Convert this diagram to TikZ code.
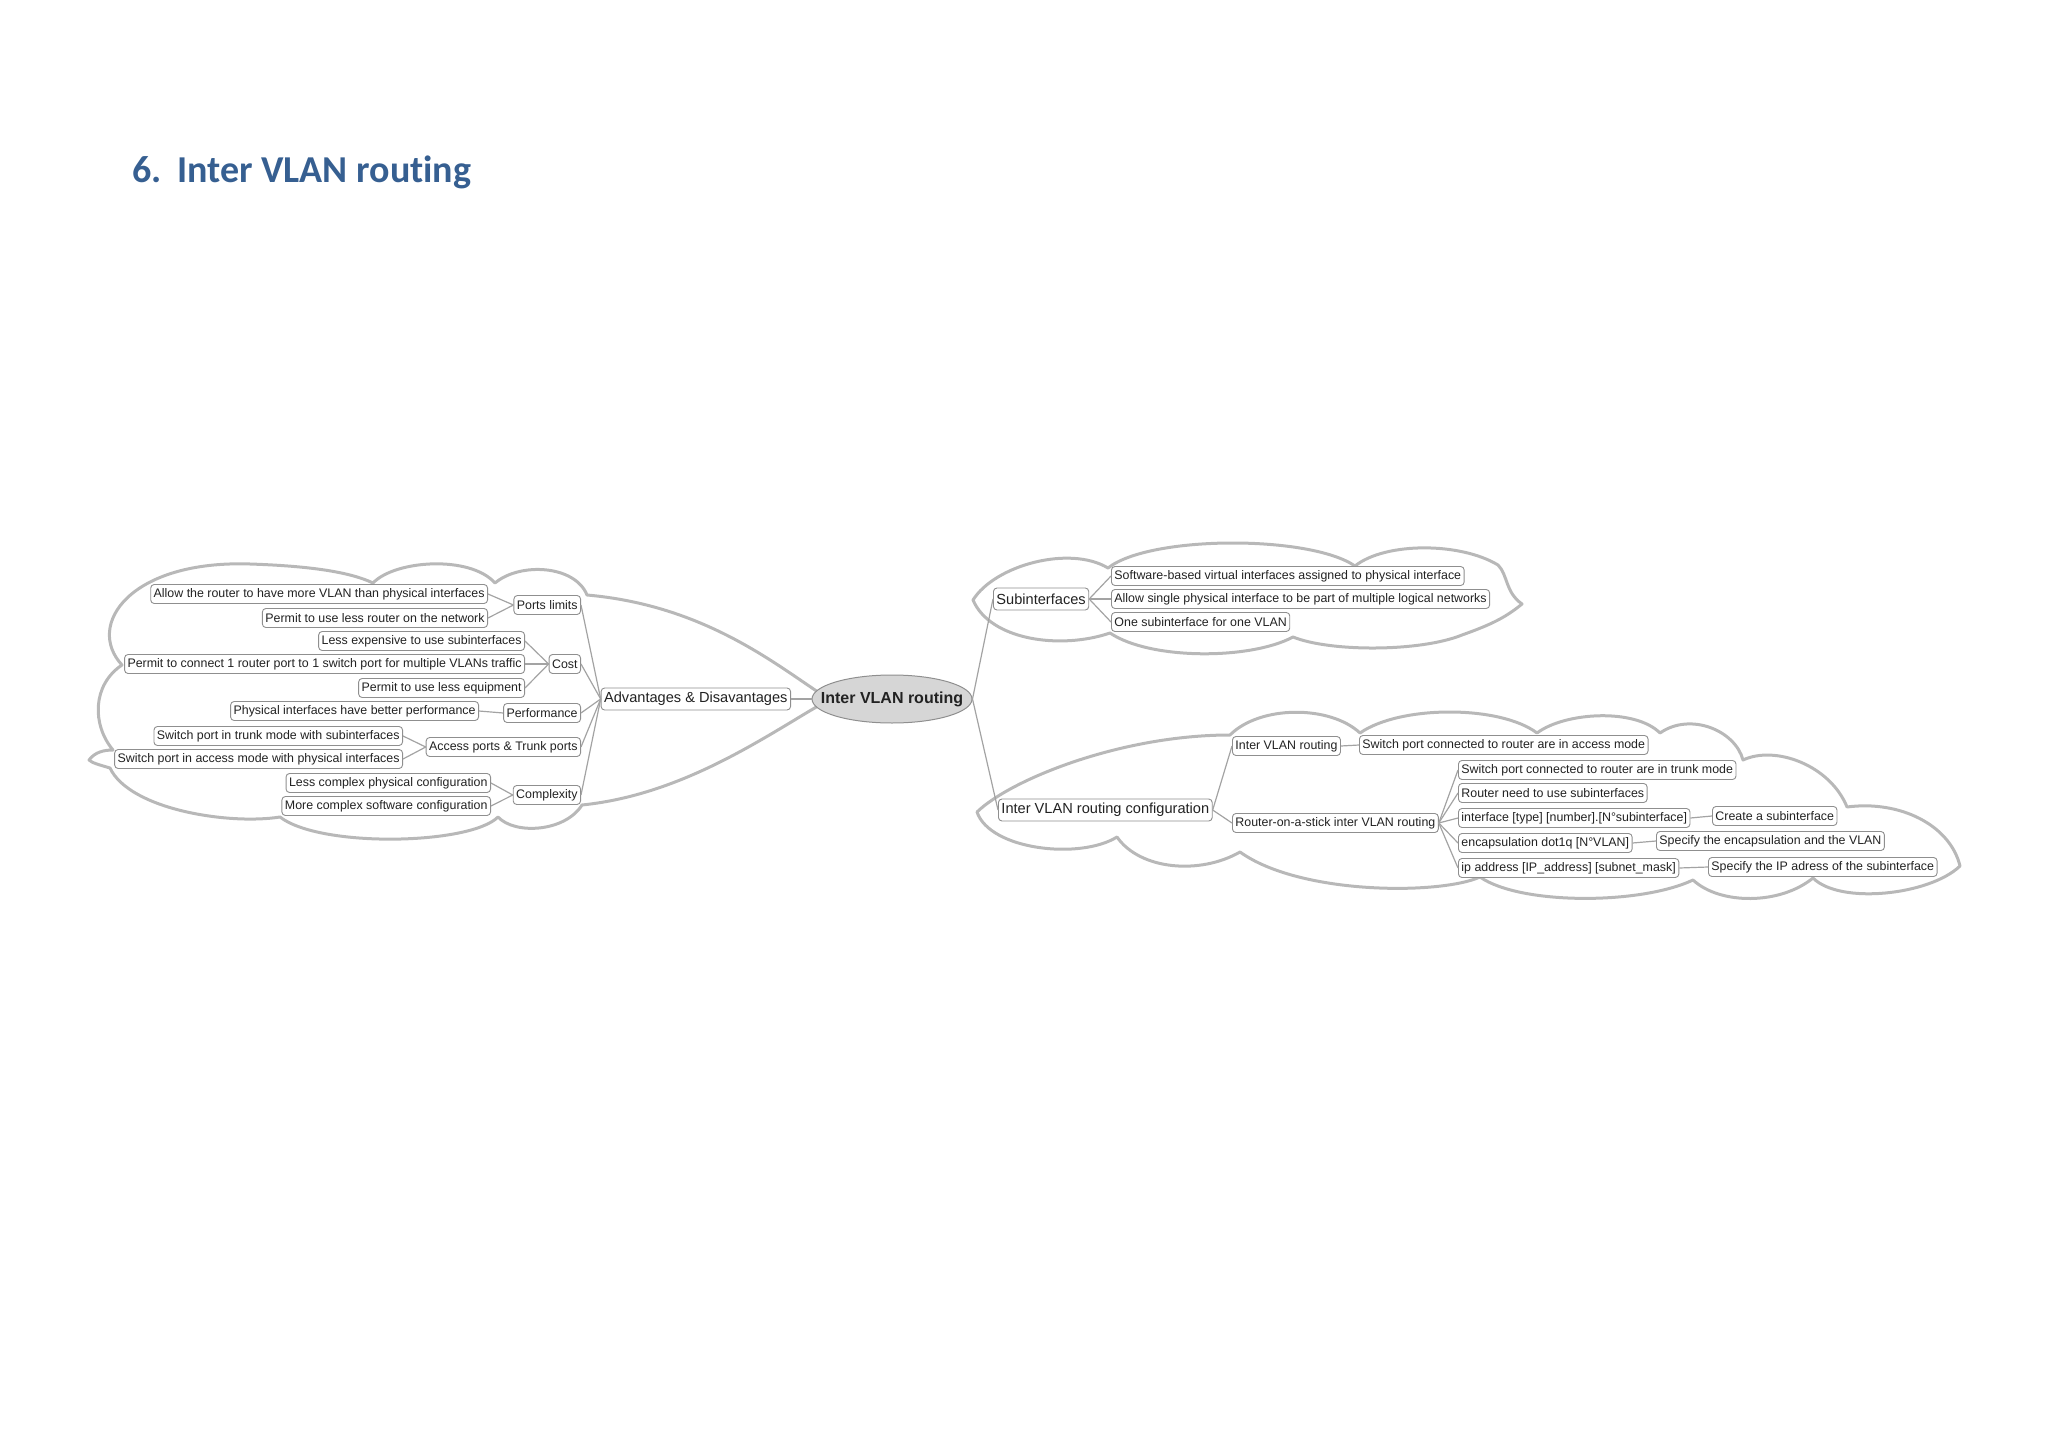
\documentclass[tikz,border=0pt]{standalone}
\usepackage{fontspec}
\setmainfont{Liberation Sans}
\newfontfamily\titlefont[Ligatures=NoCommon]{Carlito}
\usetikzlibrary{shapes.geometric}
\definecolor{cloudc}{HTML}{B8B8B8}
\definecolor{boxc}{HTML}{8F8F8F}
\definecolor{linkc}{HTML}{A3A3A3}
\definecolor{txt}{HTML}{222222}
\definecolor{rootfill}{HTML}{D6D6D6}
\definecolor{titlec}{HTML}{365F91}
\begin{document}
\begin{tikzpicture}[x=1pt,y=-1pt,
  box/.style={draw=boxc, rounded corners=3.5pt, line width=0.9pt, fill=white,
    font=\fontsize{12.4}{14}\selectfont, text=txt, inner xsep=3pt, inner ysep=0pt,
    minimum height=19pt},
  bigbox/.style={box, font=\fontsize{14.6}{16}\selectfont, minimum height=22pt},
  link/.style={draw=linkc, line width=1.2pt},
  cloudline/.style={draw=cloudc, line width=3pt, line join=round},
  titletext/.style={anchor=base west, inner sep=0pt, font=\titlefont\bfseries\fontsize{38}{44}\selectfont, text=titlec}]
\useasboundingbox (0,0) rectangle (2048,1447);

% title
\node[titletext] (tnum) at (132,183) {6.};
\node[titletext] (ttext) at (177,183) {Inter VLAN routing};

% clouds
\draw[cloudline] (89,760) .. controls (95,752) and (104,750) .. (113,750)
  .. controls (92,725) and (92,685) .. (122,665)
  .. controls (85,625) and (130,560) .. (250,564)
  .. controls (310,566) and (350,572) .. (373,583)
  .. controls (395,560) and (470,555) .. (495,583)
  .. controls (520,562) and (575,565) .. (587,595)
  .. controls (700,605) and (770,660) .. (818,692)
  -- (818,706)
  .. controls (760,740) and (680,795) .. (582,805)
  .. controls (565,832) and (515,835) .. (498,817)
  .. controls (470,845) and (320,848) .. (280,817)
  .. controls (230,825) and (130,810) .. (110,768)
  .. controls (100,765) and (92,763) .. cycle;

\draw[cloudline] (973,600) .. controls (995,565) and (1070,545) .. (1108,568)
  .. controls (1150,535) and (1310,535) .. (1355,566)
  .. controls (1385,542) and (1460,542) .. (1498,565)
  .. controls (1508,575) and (1505,592) .. (1522,604)
  .. controls (1505,618) and (1490,625) .. (1462,635)
  .. controls (1420,652) and (1330,652) .. (1293,637)
  .. controls (1250,660) and (1150,660) .. (1110,633)
  .. controls (1060,650) and (990,640) .. cycle;

\draw[cloudline] (977,812) .. controls (1010,780) and (1120,735) .. (1230,735)
  .. controls (1260,705) and (1330,705) .. (1360,733)
  .. controls (1400,705) and (1500,705) .. (1537,733)
  .. controls (1565,712) and (1635,708) .. (1660,733)
  .. controls (1690,712) and (1735,730) .. (1743,760)
  .. controls (1775,745) and (1830,765) .. (1847,807)
  .. controls (1900,800) and (1950,825) .. (1960,866)
  .. controls (1930,895) and (1840,905) .. (1813,878)
  .. controls (1780,905) and (1720,905) .. (1693,880)
  .. controls (1640,905) and (1520,905) .. (1480,877)
  .. controls (1440,895) and (1300,895) .. (1240,852)
  .. controls (1200,875) and (1140,870) .. (1117,837)
  .. controls (1080,860) and (990,850) .. cycle;

% central node
\node[ellipse, draw=boxc, line width=1pt, fill=rootfill, minimum width=160pt, minimum height=48pt, inner sep=0pt,
  font=\bfseries\fontsize{16}{18}\selectfont, text=txt] (root) at (892,699) {\makebox[0pt][c]{Inter VLAN routing}};

% left branch
\node[bigbox, anchor=east] (adv) at (791,699) {Advantages \& Disavantages};

\node[box, anchor=east] (pl) at (581,605) {Ports limits};
\node[box, anchor=east] (a1) at (488,594) {Allow the router to have more VLAN than physical interfaces};
\node[box, anchor=east] (a2) at (488,618) {Permit to use less router on the network};

\node[box, anchor=east] (cost) at (581,664) {Cost};
\node[box, anchor=east] (c1) at (525,641) {Less expensive to use subinterfaces};
\node[box, anchor=east] (c2) at (525,664) {Permit to connect 1 router port to 1 switch port for multiple VLANs traffic};
\node[box, anchor=east] (c3) at (525,688) {Permit to use less equipment};

\node[box, anchor=east] (perf) at (581,713) {Performance};
\node[box, anchor=east] (p1) at (479,711) {Physical interfaces have better performance};

\node[box, anchor=east] (acc) at (581,747) {Access ports \& Trunk ports};
\node[box, anchor=east] (t1) at (403,736) {Switch port in trunk mode with subinterfaces};
\node[box, anchor=east] (t2) at (403,759) {Switch port in access mode with physical interfaces};

\node[box, anchor=east] (cx) at (581,795) {Complexity};
\node[box, anchor=east] (x1) at (491,783) {Less complex physical configuration};
\node[box, anchor=east] (x2) at (491,806) {More complex software configuration};

% right upper branch
\node[bigbox, anchor=west] (sub) at (993,599) {Subinterfaces};
\node[box, anchor=west] (s1) at (1111,576) {Software-based virtual interfaces assigned to physical interface};
\node[box, anchor=west] (s2) at (1111,599) {Allow single physical interface to be part of multiple logical networks};
\node[box, anchor=west] (s3) at (1111,622) {One subinterface for one VLAN};

% right lower branch
\node[bigbox, anchor=west] (cfg) at (998,810) {Inter VLAN routing configuration};
\node[box, anchor=west] (ivr) at (1232,746) {Inter VLAN routing};
\node[box, anchor=west] (ivr1) at (1359,745) {Switch port connected to router are in access mode};
\node[box, anchor=west] (ros) at (1232,823) {Router-on-a-stick inter VLAN routing};
\node[box, anchor=west] (r1) at (1458,770) {Switch port connected to router are in trunk mode};
\node[box, anchor=west] (r2) at (1458,793) {Router need to use subinterfaces};
\node[box, anchor=west] (r3) at (1458,818) {interface [type] [number].[N°subinterface]};
\node[box, anchor=west] (r4) at (1458,843) {encapsulation dot1q [N°VLAN]};
\node[box, anchor=west] (r5) at (1458,868) {ip address [IP\_address] [subnet\_mask]};
\node[box, anchor=west] (r3a) at (1712,816) {Create a subinterface};
\node[box, anchor=west] (r4a) at (1656,841) {Specify the encapsulation and the VLAN};
\node[box, anchor=west] (r5a) at (1708,867) {Specify the IP adress of the subinterface};

% connectors
\draw[link] (root.west) -- (adv.east);
\foreach \n in {pl,cost,perf,acc,cx} \draw[link] (adv.west) -- (\n.east);
\foreach \n in {a1,a2} \draw[link] (pl.west) -- (\n.east);
\foreach \n in {c1,c2,c3} \draw[link] (cost.west) -- (\n.east);
\draw[link] (perf.west) -- (p1.east);
\foreach \n in {t1,t2} \draw[link] (acc.west) -- (\n.east);
\foreach \n in {x1,x2} \draw[link] (cx.west) -- (\n.east);

\draw[link] (root.east) -- (sub.west);
\foreach \n in {s1,s2,s3} \draw[link] (sub.east) -- (\n.west);
\draw[link] (root.east) -- (cfg.west);
\draw[link] (cfg.east) -- (ivr.west);
\draw[link] (cfg.east) -- (ros.west);
\draw[link] (ivr.east) -- (ivr1.west);
\foreach \n in {r1,r2,r3,r4,r5} \draw[link] (ros.east) -- (\n.west);
\draw[link] (r3.east) -- (r3a.west);
\draw[link] (r4.east) -- (r4a.west);
\draw[link] (r5.east) -- (r5a.west);
\end{tikzpicture}
\end{document}
